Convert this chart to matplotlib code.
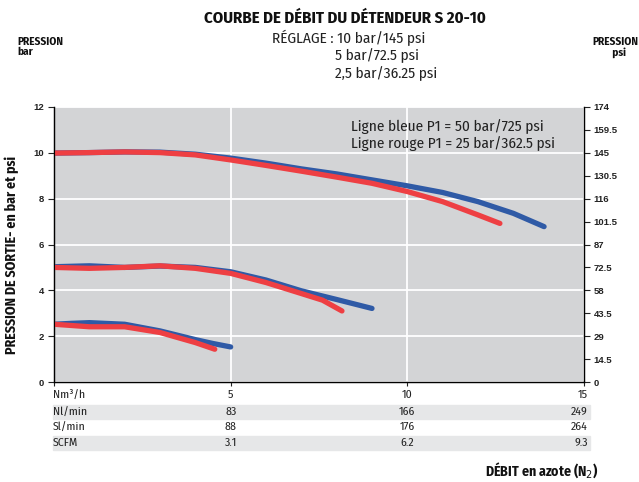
import matplotlib
matplotlib.use("Agg")
import matplotlib.pyplot as plt

# Débit (Nm3/h) and pression de sortie (bar)
blue_10_x = [0, 1, 2, 3, 4, 5, 6, 7, 8, 9, 10, 11, 12, 13, 13.87]
blue_10_y = [9.99, 10.01, 10.04, 10.03, 9.94, 9.77, 9.55, 9.30, 9.08, 8.82, 8.56, 8.27, 7.87, 7.36, 6.78]
red_10_x = [0, 1, 2, 3, 4, 5, 6, 7, 8, 9, 10, 11, 12, 12.62]
red_10_y = [9.99, 10.01, 10.04, 10.01, 9.91, 9.69, 9.45, 9.20, 8.94, 8.67, 8.31, 7.87, 7.29, 6.92]

blue_5_x = [0, 1, 2, 3, 4, 5, 6, 7, 8, 9]
blue_5_y = [5.03, 5.07, 5.00, 5.06, 5.00, 4.81, 4.45, 3.98, 3.60, 3.21]
red_5_x = [0, 1, 2, 3, 4, 5, 6, 7, 7.6, 8.15]
red_5_y = [5.00, 4.96, 5.00, 5.07, 4.96, 4.74, 4.34, 3.86, 3.57, 3.10]

blue_25_x = [0, 0.5, 1, 2, 3, 4, 4.5, 5]
blue_25_y = [2.52, 2.56, 2.59, 2.52, 2.23, 1.85, 1.68, 1.53]
red_25_x = [0, 1, 2, 3, 4, 4.55]
red_25_y = [2.52, 2.41, 2.41, 2.16, 1.72, 1.43]

left_ticks = [0, 2, 4, 6, 8, 10, 12]
psi_ticks = ["0", "14.5", "29", "43.5", "58", "72.5", "87", "101.5", "116", "130.5", "145", "159.5", "174"]

table_rows = ["Nm³/h", "Nl/min", "Sl/min", "SCFM"]
table_cols = [5, 10, 15]
table_values = [
    ["5", "10", "15"],
    ["83", "166", "249"],
    ["88", "176", "264"],
    ["3.1", "6.2", "9.3"],
]

BLUE = "#2f5aa6"
RED = "#ee3f43"
narrow = ["Fira Sans Condensed", "DejaVu Sans"]
arial = ["Liberation Sans", "DejaVu Sans"]

fig = plt.figure(figsize=(6.39, 4.82), dpi=100)
ax = fig.add_axes([54 / 639, 1 - 382 / 482, (584 - 54) / 639, (382 - 107) / 482])
ax.set_facecolor("#d3d4d6")

line_kw = dict(lw=3.8, solid_capstyle="round", solid_joinstyle="round")
ax.plot(blue_10_x, blue_10_y, color=BLUE, zorder=3, **line_kw)
ax.plot(red_10_x, red_10_y, color=RED, zorder=4, **line_kw)
ax.plot(blue_5_x, blue_5_y, color=BLUE, zorder=3, **line_kw)
ax.plot(red_5_x, red_5_y, color=RED, zorder=4, **line_kw)
ax.plot(blue_25_x, blue_25_y, color=BLUE, zorder=3, **line_kw)
ax.plot(red_25_x, red_25_y, color=RED, zorder=4, **line_kw)

ax.set_xlim(0, 15)
ax.set_ylim(0, 12)
ax.set_yticks(left_ticks)
ax.set_xticks([0, 5, 10, 15])
ax.set_xticklabels([])
ax.grid(True, color="white", lw=1.3)
ax.set_axisbelow(True)
ax.spines["top"].set_visible(False)
for s in ["left", "bottom", "right"]:
    ax.spines[s].set_color("#222222")
    ax.spines[s].set_linewidth(1.0)
ax.tick_params(axis="y", direction="out", length=4, labelsize=6.8, pad=3, colors="#222222")
ax.tick_params(axis="x", direction="out", length=3, colors="#222222")
for t in ax.get_yticklabels():
    t.set_fontweight("bold")
    t.set_family(arial)

ax2 = ax.twinx()
ax2.set_ylim(0, 174)
ax2.set_yticks([i * 14.5 for i in range(13)])
ax2.set_yticklabels(psi_ticks)
ax2.tick_params(axis="y", direction="out", length=4, labelsize=6.8, pad=3, colors="#222222")
for t in ax2.get_yticklabels():
    t.set_fontweight("bold")
    t.set_family(arial)
ax2.spines["top"].set_visible(False)

ax.text(0.56, 0.955, "Ligne bleue P1 = 50 bar/725 psi\nLigne rouge P1 = 25 bar/362.5 psi",
        transform=ax.transAxes, fontsize=11, family=narrow, color="#222222",
        va="top", ha="left", linespacing=1.15)

# table under the axis
row_y = [395, 412, 427, 443]
for i, (name, vals) in enumerate(zip(table_rows, table_values)):
    y = 1 - row_y[i] / 482
    if i % 2 == 1:
        fig.patches.append(plt.Rectangle((53 / 639, 1 - (row_y[i] + 7) / 482), (590 - 53) / 639, 14 / 482,
                                         transform=fig.transFigure, color="#e6e7e8", zorder=0))
    fig.text(53 / 639, y, name, fontsize=8.5, family=narrow, color="#222222", va="center", ha="left")
    for j, (cx, v) in enumerate(zip(table_cols, vals)):
        px = ax.transData.transform((cx, 0))[0] / fig.dpi / fig.get_figwidth()
        if j == 2:
            fig.text(588 / 639, y, v, fontsize=8.5, family=narrow, color="#222222", va="center", ha="right")
        else:
            fig.text(px, y, v, fontsize=8.5, family=narrow, color="#222222", va="center", ha="center")

fig.text(598 / 639, 1 - 470 / 482, "DÉBIT en azote (N$_2$)", fontsize=10, family=narrow,
         fontweight="bold", color="#111111", ha="right", va="center")

# titles
fig.text(345 / 639, 1 - 18 / 482, "COURBE DE DÉBIT DU DÉTENDEUR S 20-10", fontsize=12, family=narrow,
         fontweight="bold", color="#111111", ha="center", va="center")
fig.text(272 / 639, 1 - 38 / 482, "RÉGLAGE : 10 bar/145 psi", fontsize=11, family=narrow,
         color="#222222", ha="left", va="center")
fig.text(335 / 639, 1 - 56 / 482, "5 bar/72.5 psi", fontsize=11, family=narrow,
         color="#222222", ha="left", va="center")
fig.text(335 / 639, 1 - 74 / 482, "2,5 bar/36.25 psi", fontsize=11, family=narrow,
         color="#222222", ha="left", va="center")

fig.text(17 / 639, 1 - 47 / 482, "PRESSION\nbar", fontsize=8, family=narrow, fontweight="bold",
         color="#111111", ha="left", va="center", linespacing=1.0)
fig.text(592 / 639, 1 - 47 / 482, "PRESSION\n         psi", fontsize=8, family=narrow, fontweight="bold",
         color="#111111", ha="left", va="center", linespacing=1.0)

fig.text(12 / 639, 1 - 255 / 482, "PRESSION DE SORTIE- en bar et psi", fontsize=10, family=narrow,
         fontweight="bold", color="#111111", rotation=90, ha="center", va="center")

fig.savefig("out.png", dpi=100)
